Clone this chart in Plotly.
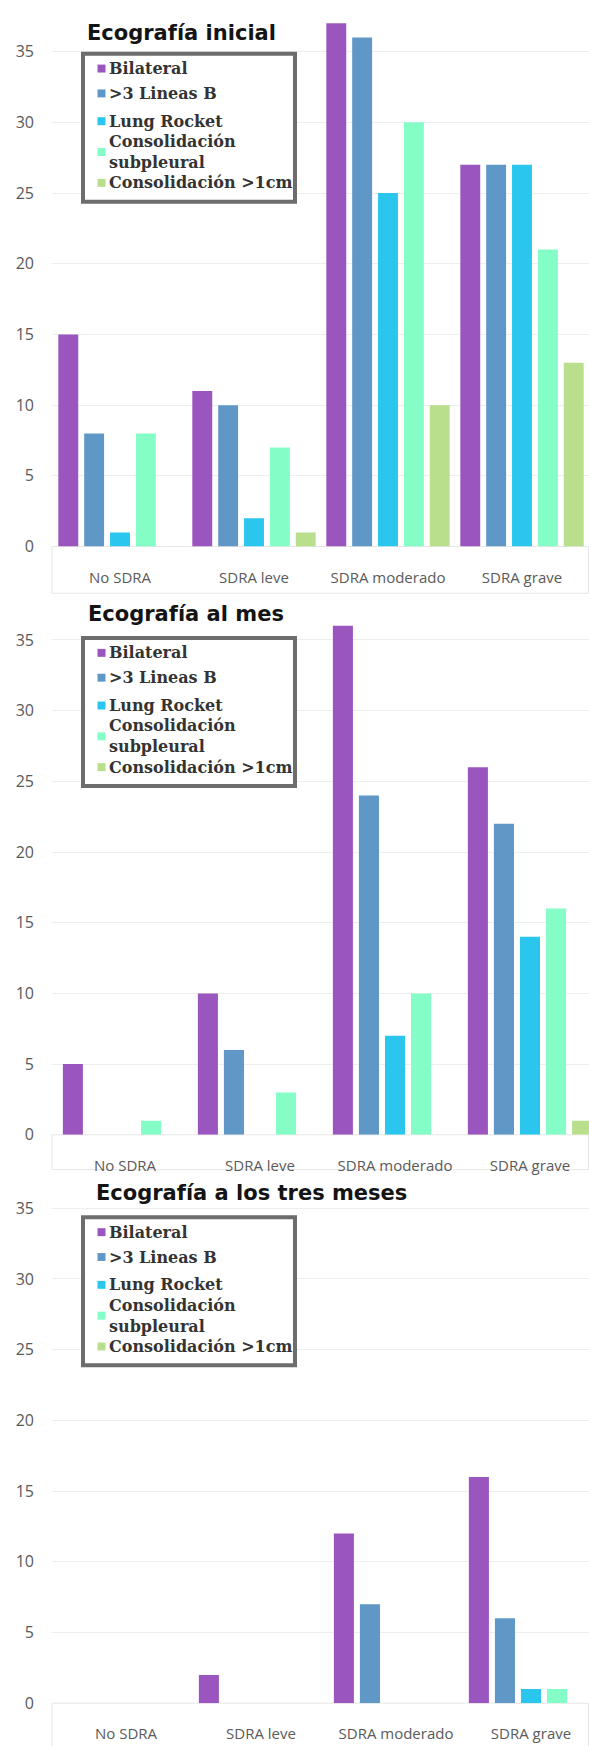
import plotly.graph_objects as go

# ---------------- data ----------------
categories = ["No SDRA", "SDRA leve", "SDRA moderado", "SDRA grave"]
series_names = ["Bilateral", ">3 Lineas B", "Lung Rocket",
                "Consolidación<br>subpleural", "Consolidación >1cm"]
series_colors = ["#9B55BE", "#5F98C6", "#2BC6EE", "#84FDC6", "#B9DF8C"]
panel_titles = ["Ecografía inicial", "Ecografía al mes", "Ecografía a los tres meses"]
y_ticks = [0, 5, 10, 15, 20, 25, 30, 35]

ini_bilateral = [15, 11, 37, 27]
ini_lineas_b = [8, 10, 36, 27]
ini_lung_rocket = [1, 2, 25, 27]
ini_consol_sub = [8, 7, 30, 21]
ini_consol_1cm = [0, 1, 10, 13]

mes_bilateral = [5, 10, 36, 26]
mes_lineas_b = [0, 6, 24, 22]
mes_lung_rocket = [0, 0, 7, 14]
mes_consol_sub = [1, 3, 10, 16]
mes_consol_1cm = [0, 0, 0, 1]

tres_bilateral = [0, 2, 12, 16]
tres_lineas_b = [0, 0, 7, 6]
tres_lung_rocket = [0, 0, 0, 1]
tres_consol_sub = [0, 0, 0, 1]
tres_consol_1cm = [0, 0, 0, 0]

panels_values = [
    [ini_bilateral, ini_lineas_b, ini_lung_rocket, ini_consol_sub, ini_consol_1cm],
    [mes_bilateral, mes_lineas_b, mes_lung_rocket, mes_consol_sub, mes_consol_1cm],
    [tres_bilateral, tres_lineas_b, tres_lung_rocket, tres_consol_sub, tres_consol_1cm],
]

# ---------------- layout geometry (pixels) ----------------
W, H = 589, 1746
PLOT_L, PLOT_R = 52, 589
K = 14.23  # px per unit
geom = [
    dict(base=550, c0=120, s=134, tx=85, ty=33, lt=52, ytop=38, boxh=47),
    dict(base=1142, c0=125, s=135, tx=86, ty=618, lt=640, ytop=38, boxh=35),
    dict(base=1714, c0=126, s=135, tx=94, ty=1201, lt=1223, ytop=36.5, boxh=60),
]


def px(x):
    return x / W


def py(y):
    return 1 - y / H


fig = go.Figure()
layout = dict(
    width=W, height=H, margin=dict(l=0, r=0, t=0, b=0),
    paper_bgcolor="white", plot_bgcolor="white",
    barmode="group", bargap=0.035, bargroupgap=0.23,
    showlegend=False, shapes=[], annotations=[],
)

x_tick_font = dict(family="Open Sans", size=15, color="#5a5a5a")
y_tick_font = dict(family="Open Sans", size=16, color="#595959")

for p, (vals, g) in enumerate(zip(panels_values, geom)):
    sfx = "" if p == 0 else str(p + 1)
    for name, color, v in zip(series_names, series_colors, vals):
        fig.add_trace(go.Bar(
            x=list(range(len(categories))), y=v, name=name,
            marker=dict(color=color, line=dict(width=0)),
            xaxis="x" + sfx, yaxis="y" + sfx, showlegend=False,
            hovertemplate="%{y}<extra>" + name.replace("<br>", " ") + "</extra>",
        ))
    r0 = -(g["c0"] - PLOT_L) / g["s"]
    r1 = r0 + (PLOT_R - PLOT_L) / g["s"]
    layout["xaxis" + sfx] = dict(
        domain=[px(PLOT_L), 1], range=[r0, r1], anchor="y" + sfx,
        tickvals=list(range(len(categories))), ticktext=categories,
        showgrid=False, zeroline=False, showline=False, ticks="",
        tickfont=x_tick_font, ticklabelstandoff=20, fixedrange=True,
    )
    layout["yaxis" + sfx] = dict(
        domain=[py(g["base"]), py(g["base"] - g["ytop"] * K)],
        range=[0, g["ytop"]], anchor="x" + sfx,
        tickvals=y_ticks, showgrid=True, gridcolor="#eeeeee", gridwidth=1,
        zeroline=False, showline=False, ticks="",
        tickfont=y_tick_font, ticklabelstandoff=17, fixedrange=True,
    )
    # x label box
    layout["shapes"].append(dict(
        type="rect", xref="paper", yref="paper", layer="below",
        x0=px(PLOT_L), x1=px(W - 0.5), y0=py(g["base"]), y1=py(g["base"] + g["boxh"]),
        line=dict(color="#e6e6e6", width=1), fillcolor="rgba(0,0,0,0)",
    ))
    # title
    layout["annotations"].append(dict(
        text=panel_titles[p], xref="paper", yref="paper",
        x=px(g["tx"]), y=py(g["ty"]), xanchor="left", yanchor="middle",
        showarrow=False,
        font=dict(family="DejaVu Sans", size=21, color="#141414", weight="bold"),
    ))
    # legend box
    lt = g["lt"]
    layout["shapes"].append(dict(
        type="rect", xref="paper", yref="paper", layer="above",
        x0=px(83), x1=px(295), y0=py(lt + 2), y1=py(lt + 151),
        line=dict(color="#6d6d6d", width=4), fillcolor="white",
    ))
    item_y = [17, 42, 70, 101, 132]
    for name, color, dy in zip(series_names, series_colors, item_y):
        yc = lt + dy
        layout["shapes"].append(dict(
            type="rect", xref="paper", yref="paper", layer="above",
            x0=px(97.5), x1=px(105.5), y0=py(yc - 4), y1=py(yc + 4),
            line=dict(width=0), fillcolor=color,
        ))
        layout["annotations"].append(dict(
            text=name, xref="paper", yref="paper",
            x=px(107), y=py(yc), xanchor="left", yanchor="middle", align="left",
            showarrow=False,
            font=dict(family="DejaVu Serif", size=16, color="#333333", weight="bold"),
        ))

fig.update_layout(**layout)
fig.write_html("out.html", config={"displayModeBar": False})
